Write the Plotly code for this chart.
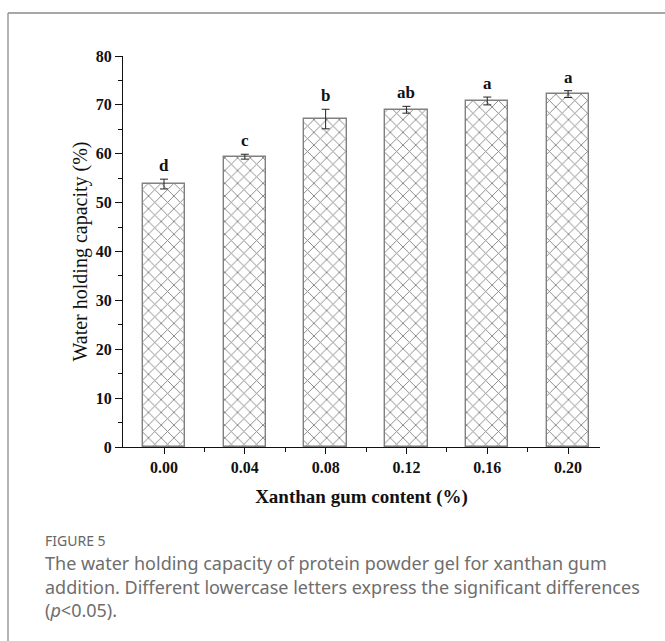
import plotly.graph_objects as go

# Data
xanthan = [0.00, 0.04, 0.08, 0.12, 0.16, 0.20]
whc = [53.8, 59.4, 67.1, 69.0, 70.8, 72.2]
whc_err = [1.0, 0.5, 2.0, 0.7, 0.8, 0.7]
letters = ["d", "c", "b", "ab", "a", "a"]
tick_labels = ["0.00", "0.04", "0.08", "0.12", "0.16", "0.20"]

W, H = 665, 641
ML, MR, MT, MB = 123, 65, 56, 194
pw, ph = W - ML - MR, H - MT - MB

def px(x):
    return (x - ML) / pw

def py(y):
    return (H - MB - y) / ph

serif = "Liberation Serif"
ink = "#111111"

fig = go.Figure()
fig.add_trace(go.Bar(
    x=xanthan, y=whc, width=0.021,
    marker=dict(color="white", line=dict(color="#808080", width=1.4),
                pattern=dict(shape="x", size=9, solidity=0.2, fgcolor="#111111", bgcolor="white")),
    error_y=dict(type="data", array=whc_err, color="#222222", thickness=1, width=4),
    showlegend=False,
))

for x, y, e, t in zip(xanthan, whc, whc_err, letters):
    fig.add_annotation(x=x, y=y + e, text="<b>%s</b>" % t, showarrow=False,
                       yanchor="bottom", yshift=2,
                       font=dict(family=serif, size=17, color=ink))

fig.update_xaxes(range=[-0.0203, 0.2158], tickvals=xanthan,
                 ticktext=["<b>%s</b>" % t for t in tick_labels],
                 showgrid=False, zeroline=False, showline=True, linecolor=ink, linewidth=1.2,
                 ticks="outside", ticklen=6, tickwidth=1.2, tickcolor=ink,
                 minor=dict(tickvals=[0.02, 0.06, 0.10, 0.14, 0.18], ticks="outside", ticklen=4,
                            tickwidth=1.2, tickcolor=ink),
                 tickfont=dict(family=serif, size=16, color=ink),
                 title=dict(text="<b>Xanthan gum content (%)</b>", standoff=14,
                            font=dict(family=serif, size=19, color=ink)))
fig.update_yaxes(range=[0, 80], dtick=10, showgrid=False, zeroline=False,
                 showline=True, linecolor=ink, linewidth=1.2,
                 ticks="outside", ticklen=7, tickwidth=1.2, tickcolor=ink,
                 minor=dict(dtick=5, ticks="outside", ticklen=4, tickwidth=1.2, tickcolor=ink),
                 tickfont=dict(family=serif, size=16, color=ink), tickprefix="<b>", ticksuffix="</b>",
                 title=dict(text="Water holding capacity (%)", standoff=2,
                            font=dict(family=serif, size=20, color=ink)))

# frame lines
fig.add_shape(type="line", xref="paper", yref="paper", x0=px(8), x1=px(W + 5), y0=py(13), y1=py(13),
              line=dict(color="#8a8a8a", width=1.3))
fig.add_shape(type="line", xref="paper", yref="paper", x0=px(8), x1=px(8), y0=py(13), y1=py(H + 5),
              line=dict(color="#8a8a8a", width=1.3))

# caption
fig.add_annotation(xref="paper", yref="paper", x=px(43), y=py(540), xanchor="left", yanchor="middle",
                   text="FIGURE 5", showarrow=False,
                   font=dict(family="Noto Sans", size=14, color="#666666"))
cap_lines = ["The water holding capacity of protein powder gel for xanthan gum",
             "addition. Different lowercase letters express the significant differences",
             "(<i>p</i><0.05)."]
for i, ln in enumerate(cap_lines):
    fig.add_annotation(xref="paper", yref="paper", x=px(43), y=py(563 + 23.5 * i), xanchor="left",
                       yanchor="middle", text=ln, showarrow=False,
                       font=dict(family="Noto Sans", size=18, color="#6e6e6e"))

fig.update_layout(width=W, height=H, margin=dict(l=ML, r=MR, t=MT, b=MB),
                  plot_bgcolor="white", paper_bgcolor="white", bargap=0)

fig.write_html("out.html", config={"displayModeBar": False},
               post_script="document.body.style.margin='0';")
